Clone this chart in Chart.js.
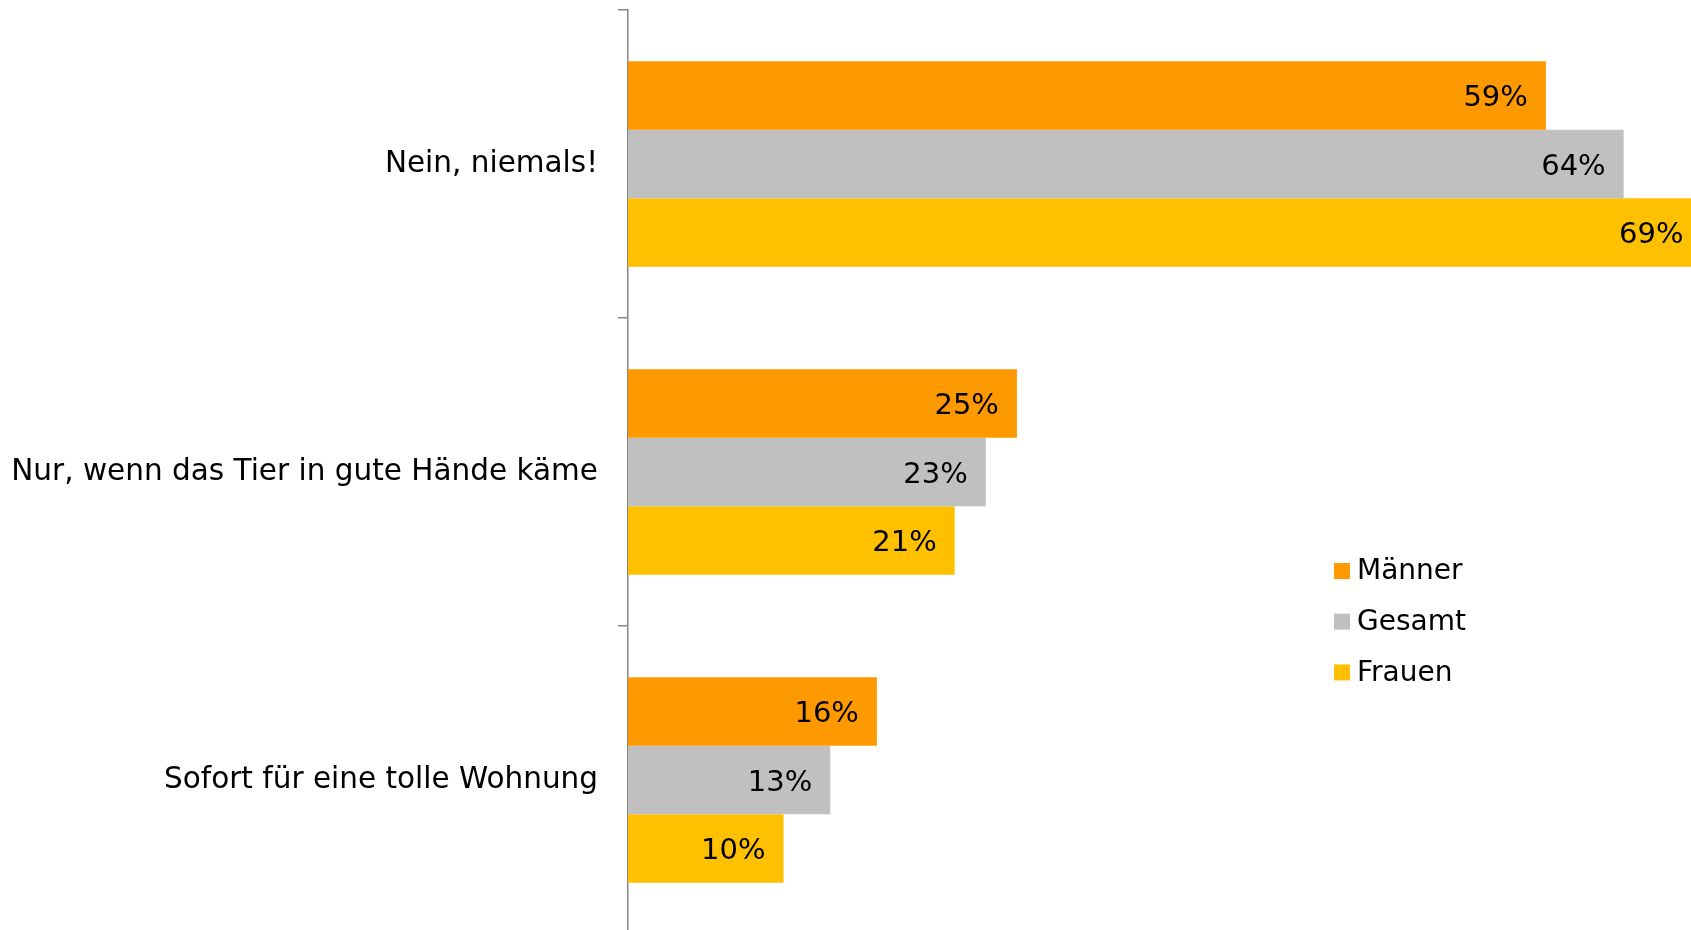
<!DOCTYPE html>
<html lang="de">
<head>
<meta charset="utf-8">
<title>Tier abgeben für eine Wohnung?</title>
<script src="https://cdn.jsdelivr.net/npm/chart.js@4.4.1/dist/chart.umd.min.js"></script>
<style>
    html, body { margin: 0; padding: 0; background: #fff; overflow: hidden; }
    #wrap { position: relative; width: 1717px; height: 940px; }
</style>
</head>
<body>
<div id="wrap"><canvas id="chart"></canvas></div>
<script>
// answer categories (top to bottom)
const categories = [
    "Nein, niemals!",
    "Nur, wenn das Tier in gute Hände käme",
    "Sofort für eine tolle Wohnung"
];

// shares in percent
const maenner = [59, 25, 16];
const gesamt  = [64, 23, 13];
const frauen  = [69, 21, 10];

const seriesLabels = ["Männer", "Gesamt", "Frauen"];
const seriesColors = ["#FF9900", "#C0C0C0", "#FFC000"];

Chart.defaults.font.family = "'DejaVu Sans', Verdana, sans-serif";
Chart.defaults.color = "#000";

// value labels inside the bar end
const valueLabels = {
    id: "valueLabels",
    afterDatasetsDraw(chart) {
        const ctx = chart.ctx;
        ctx.save();
        ctx.font = "29px 'DejaVu Sans'";
        ctx.fillStyle = "#000";
        ctx.textAlign = "right";
        ctx.textBaseline = "middle";
        chart.data.datasets.forEach((ds, i) => {
            chart.getDatasetMeta(i).data.forEach((bar, j) => {
                ctx.fillText(ds.data[j] + "%", bar.x - 18, bar.y + 3);
            });
        });
        ctx.restore();
    }
};

// small legend at the lower right, inside the plot
const sideLegend = {
    id: "sideLegend",
    afterDraw(chart) {
        const ctx = chart.ctx;
        ctx.save();
        ctx.font = "28px 'DejaVu Sans'";
        ctx.textAlign = "left";
        ctx.textBaseline = "middle";
        chart.data.datasets.forEach((ds, i) => {
            const y = 571 + i * 50.7;
            ctx.fillStyle = ds.backgroundColor;
            ctx.fillRect(1334, y - 8, 16, 16);
            ctx.fillStyle = "#000";
            ctx.fillText(ds.label, 1357, y + 1);
        });
        ctx.restore();
    }
};

new Chart(document.getElementById("chart"), {
    type: "bar",
    data: {
        labels: categories,
        datasets: [
            { label: seriesLabels[0], data: maenner, backgroundColor: seriesColors[0] },
            { label: seriesLabels[1], data: gesamt,  backgroundColor: seriesColors[1] },
            { label: seriesLabels[2], data: frauen,  backgroundColor: seriesColors[2] }
        ]
    },
    options: {
        indexAxis: "y",
        responsive: true,
        maintainAspectRatio: false,
        animation: false,
        layout: { padding: { top: 10, bottom: 6, left: 0, right: 0 } },
        datasets: {
            bar: {
                categoryPercentage: 0.667,
                barPercentage: 1.0,
                borderWidth: 0
            }
        },
        scales: {
            x: {
                display: false,
                min: 0,
                max: 70
            },
            y: {
                offset: true,
                afterFit: scale => {
                    scale.width = 628;
                    scale.paddingTop = 0;
                    scale.paddingBottom = 0;
                },
                grid: {
                    offset: true,
                    drawOnChartArea: false,
                    drawTicks: true,
                    tickLength: 10,
                    color: "#868686",
                    lineWidth: 1.5
                },
                border: { display: true, color: "#868686", width: 1.5 },
                ticks: {
                    padding: 20,
                    font: { size: 29.5 },
                    color: "#000"
                }
            }
        },
        plugins: {
            legend: { display: false },
            tooltip: { enabled: false }
        }
    },
    plugins: [valueLabels, sideLegend]
});
</script>
</body>
</html>
